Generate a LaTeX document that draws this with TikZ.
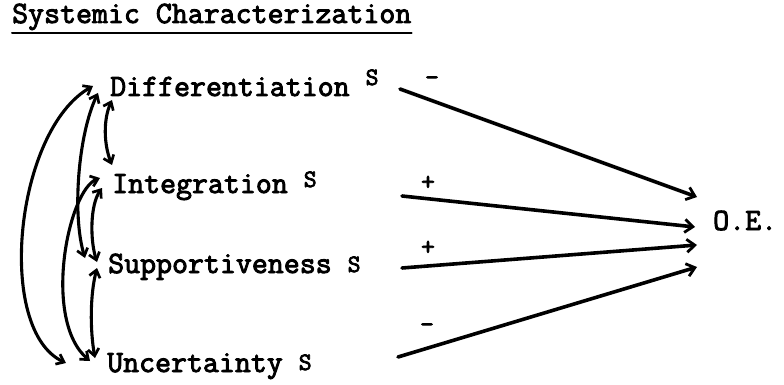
\documentclass[tikz,border=0pt]{standalone}
\usepackage{fontspec}
\newfontfamily\typew{Latin Modern Mono}[FakeBold=3]
\usepackage{tikz}
\usetikzlibrary{arrows.meta,positioning}

\begin{document}
\begin{tikzpicture}[
    x=1pt, y=-1pt,
    line join=round, line cap=round,
    varlabel/.style={font=\typew\bfseries\fontsize{31}{34}\selectfont, anchor=base west, inner sep=0pt},
    sgn/.style={font=\typew\bfseries\fontsize{27}{29}\selectfont, inner sep=0pt},
    effect/.style={line width=3.6pt, -{Straight Barb[length=8pt,width=13pt,line width=2.8pt]}},
    corr/.style={line width=3.1pt,
      {Straight Barb[length=7pt,width=11pt,line width=2.7pt]}-{Straight Barb[length=7pt,width=11pt,line width=2.7pt]}},
  ]
  \useasboundingbox (0,0) rectangle (784,385);

  % ---------- title ----------
  \node[varlabel] (title) at (12,23) {Systemic Characterization};
  \draw[line width=2pt] ([yshift=-10pt]title.base west) -- ([yshift=-10pt]title.base east);

  % ---------- variables (S = systemic) ----------
  \newcommand{\supS}[1]{\raisebox{#1}{\fontsize{25}{27}\selectfont S}}
  \node[varlabel] (dif) at (110,96)  {Differentiation \supS{11pt}};
  \node[varlabel] (int) at (112,193) {Integration \supS{6pt}};
  \node[varlabel] (sup) at (108,273) {Supportiveness \supS{1pt}};
  \node[varlabel] (unc) at (107,372) {Uncertainty \supS{2pt}};
  \node[varlabel] (oe)  at (713,230) {O.E.};

  % ---------- arrow ends ----------
  \coordinate (s1) at (400,89);  \coordinate (e1) at (697,197);
  \coordinate (s2) at (402,196); \coordinate (e2) at (695,227);
  \coordinate (s3) at (402,268); \coordinate (e3) at (697,245);
  \coordinate (s4) at (398,357); \coordinate (e4) at (697,267);

  % ---------- effects on O.E. ----------
  \draw[effect] (s1) -- (e1);
  \draw[effect] (s2) -- (e2);
  \draw[effect] (s3) -- (e3);
  \draw[effect] (s4) -- (e4);
  \node[sgn] (m1) at (432,81)  {-};
  \node[sgn] (p2) at (428,183) {+};
  \node[sgn] (p3) at (428,248) {+};
  \node[sgn] (m4) at (427,328) {-};

  % ---------- correlations among the four variables ----------
  \draw[corr] (93,86) .. controls (15,130) and (-5,330) .. (66,363);     % dif - unc
  \draw[corr] (98,93) .. controls (78,135) and (72,215) .. (85,258);     % dif - sup
  \draw[corr] (112,100) .. controls (103,120) and (104,145) .. (112,165); % dif - int
  \draw[corr] (100,178) .. controls (68,190) and (42,320) .. (90,361);   % int - unc
  \draw[corr] (102,188) .. controls (90,205) and (90,240) .. (97,262);   % int - sup
  \draw[corr] (97,268) .. controls (90,295) and (90,330) .. (95,358);    % sup - unc
\end{tikzpicture}
\end{document}
